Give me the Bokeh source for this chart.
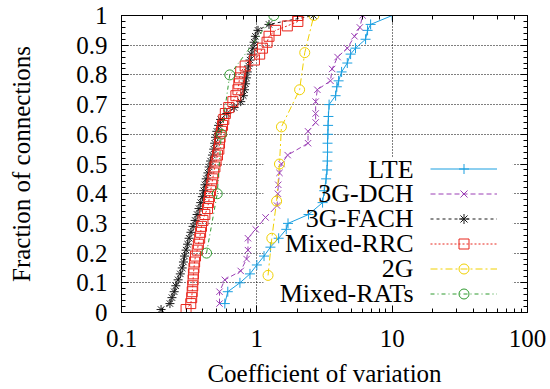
from bokeh.plotting import figure
from bokeh.models import (LogAxis, LinearAxis, SingleIntervalTicker, LogTicker,
                          CustomJSTickFormatter, Legend, LegendItem, Label, Range1d)
from bokeh.core.properties import value
from bokeh.embed import file_html
from bokeh.resources import INLINE

# ---------------- data ----------------
lte_cv = [0.58, 0.61, 0.75, 0.89, 1.0, 1.13, 1.26, 1.45, 1.65, 1.70, 2.41, 3.06, 3.15, 3.25, 3.3,
          3.32, 3.33, 3.33, 3.35, 3.36, 3.38, 3.42, 3.82, 3.9, 4.02, 4.23, 4.66, 4.93, 5.36, 6.36,
          6.58, 6.93, 10.0]
lte_frac = [0.03, 0.07, 0.10, 0.13, 0.16, 0.19, 0.22, 0.25, 0.28, 0.30, 0.33, 0.37, 0.41, 0.45, 0.48,
            0.51, 0.54, 0.57, 0.60, 0.63, 0.66, 0.70, 0.73, 0.76, 0.78, 0.81, 0.84, 0.87, 0.89, 0.92,
            0.95, 0.97, 1.0]

dch_cv = [0.53, 0.53, 0.58, 0.76, 0.84, 0.86, 0.86, 0.98, 1.16, 1.41, 1.43, 1.44, 1.47, 1.52, 1.69,
          2.39, 2.39, 2.72, 2.72, 2.72, 2.8, 3.5, 3.6, 3.95, 4.66, 5.27, 5.77, 6.05]
dch_frac = [0.03, 0.07, 0.11, 0.14, 0.18, 0.21, 0.25, 0.28, 0.32, 0.36, 0.40, 0.43, 0.47, 0.50, 0.53,
            0.57, 0.61, 0.64, 0.67, 0.71, 0.75, 0.78, 0.82, 0.86, 0.89, 0.93, 0.96, 1.0]

fach_cv = [0.196, 0.228, 0.236, 0.245, 0.252, 0.262, 0.272, 0.281, 0.287, 0.292,
           0.300, 0.308, 0.316, 0.326, 0.338, 0.350, 0.362, 0.374, 0.385, 0.396,
           0.405, 0.414, 0.423, 0.435, 0.445, 0.455, 0.470, 0.480, 0.488, 0.495,
           0.506, 0.522, 0.540, 0.600, 0.680, 0.760, 0.795, 0.812, 0.826, 0.838,
           0.850, 0.870, 0.890, 0.910, 0.935, 0.955, 0.975, 1.02, 1.23, 2.62]
fach_frac = [0.01, 0.03, 0.05, 0.07, 0.09, 0.11, 0.13, 0.15, 0.17, 0.19,
             0.21, 0.23, 0.25, 0.27, 0.29, 0.31, 0.33, 0.35, 0.37, 0.39,
             0.41, 0.43, 0.45, 0.47, 0.49, 0.51, 0.53, 0.55, 0.57, 0.59,
             0.61, 0.63, 0.65, 0.67, 0.69, 0.71, 0.73, 0.75, 0.77, 0.79,
             0.81, 0.83, 0.85, 0.87, 0.89, 0.91, 0.93, 0.95, 0.97, 1.0]

rrc_cv = [0.30, 0.325, 0.33, 0.333, 0.336, 0.338, 0.34, 0.343, 0.347, 0.352,
          0.363, 0.37, 0.378, 0.384, 0.39, 0.40, 0.413, 0.432, 0.44, 0.447,
          0.455, 0.464, 0.472, 0.48, 0.49, 0.50, 0.512, 0.524, 0.53, 0.535,
          0.548, 0.558, 0.57, 0.585, 0.62, 0.665, 0.70, 0.725, 0.736, 0.745,
          0.76, 0.82, 0.96, 1.05, 1.10, 1.19, 1.23, 1.375, 1.68, 2.01, 2.01]
rrc_frac = [0.01, 0.03, 0.05, 0.07, 0.09, 0.11, 0.13, 0.15, 0.17, 0.19,
            0.21, 0.23, 0.25, 0.27, 0.29, 0.31, 0.33, 0.35, 0.37, 0.39,
            0.41, 0.43, 0.45, 0.47, 0.49, 0.51, 0.53, 0.55, 0.57, 0.59,
            0.61, 0.63, 0.65, 0.67, 0.69, 0.71, 0.73, 0.75, 0.77, 0.79,
            0.81, 0.83, 0.85, 0.87, 0.89, 0.91, 0.93, 0.95, 0.965, 0.98, 1.0]

g2_cv = [1.21, 1.29, 1.40, 1.47, 1.52, 2.07, 2.26, 2.64]
g2_frac = [0.125, 0.25, 0.375, 0.5, 0.625, 0.75, 0.875, 1.0]

rats_cv = [0.425, 0.51, 0.546, 0.631, 1.335]
rats_frac = [0.2, 0.4, 0.6, 0.8, 1.0]

series_names = ["LTE", "3G-DCH", "3G-FACH", "Mixed-RRC", "2G", "Mixed-RATs"]

# ---------------- styling ----------------
FONT = "Liberation Serif"
FS = "25px"
FS_KEY = "26px"

p = figure(width=550, height=389, x_axis_type="log",
           x_range=Range1d(0.1, 100), y_range=Range1d(0, 1),
           output_backend="svg", toolbar_location=None,
           min_border_left=121, min_border_right=23,
           min_border_top=15, min_border_bottom=76)
p.background_fill_color = "white"
p.border_fill_color = "white"
p.outline_line_color = "black"
p.outline_line_width = 1

p.yaxis.ticker = SingleIntervalTicker(interval=0.1, num_minor_ticks=5)
p.yaxis.formatter = CustomJSTickFormatter(code="return String(Math.round(tick*10)/10);")
p.xaxis.formatter = CustomJSTickFormatter(code="return String(Number(tick.toPrecision(3)));")

for ax in (p.xaxis[0], p.yaxis[0]):
    ax.major_tick_in = 7
    ax.major_tick_out = 0
    ax.minor_tick_in = 4
    ax.minor_tick_out = 0
    ax.axis_line_color = "black"
    ax.major_tick_line_color = "black"
    ax.minor_tick_line_color = "black"
    ax.major_label_text_font = FONT
    ax.major_label_text_font_size = FS
    ax.major_label_text_color = "black"
    ax.axis_label_text_font = FONT
    ax.axis_label_text_font_size = FS
    ax.axis_label_text_font_style = "normal"
    ax.axis_label_text_color = "black"

p.xaxis.axis_label = "Coefficient of variation"
p.yaxis.axis_label = "Fraction of connections"
p.xaxis.major_label_standoff = 17
p.xaxis.axis_label_standoff = 10
p.yaxis.major_label_standoff = 14
p.yaxis.axis_label_standoff = 38

# mirrored tick marks on the right and top
empty = CustomJSTickFormatter(code="return '';")
rax = LinearAxis(ticker=SingleIntervalTicker(interval=0.1, num_minor_ticks=5), formatter=empty,
                 major_tick_in=7, major_tick_out=0, minor_tick_in=4, minor_tick_out=0,
                 major_label_standoff=0, major_label_text_font_size="1px")
tax = LogAxis(ticker=LogTicker(), formatter=empty,
              major_tick_in=7, major_tick_out=0, minor_tick_in=4, minor_tick_out=0,
              major_label_standoff=0, major_label_text_font_size="1px")
p.add_layout(rax, "right")
p.add_layout(tax, "above")

for g in (p.xgrid[0], p.ygrid[0]):
    g.grid_line_color = "black"
    g.grid_line_dash = "1 2"
    g.grid_line_width = 1

# key area: grid is not drawn behind the key (gnuplot style)
p.quad(left=[1.12], right=[78], bottom=[0], top=[0.523], fill_color="white", line_color=None)

styles = [
    (lte_cv, lte_frac, "#1a9fe0", "solid", "cross", 10),
    (dch_cv, dch_frac, "#9b3fb5", "5 3", "x", 9),
    (fach_cv, fach_frac, "#1a1a1a", "3 3", "asterisk", 9),
    (rrc_cv, rrc_frac, "#e8261d", "2 2", "square", 10),
    (g2_cv, g2_frac, "#f0d000", "7 3 2 3", "circle", 10),
    (rats_cv, rats_frac, "#2f9a2f", "4 3 1 3", "circle", 10),
]

items = []
for (xs, ys, col, dash, mk, sz), name in zip(styles, series_names):
    lr = p.line(xs, ys, line_color=col, line_width=1, line_dash=dash)
    sr = p.scatter(xs, ys, marker=mk, size=sz, line_color=col, fill_color=None, line_width=1)
    items.append(LegendItem(label=value(" "), renderers=[lr, sr]))

legend = Legend(items=items, location=(309, 6), orientation="vertical",
                glyph_width=67, glyph_height=25, spacing=0, padding=0, margin=0,
                label_standoff=0, label_width=0, label_height=0,
                label_text_font_size="10px",
                background_fill_alpha=0, border_line_alpha=0)
p.add_layout(legend, "center")

# key texts (right-aligned, left of the samples)
key_x = 14.4
key_y = [0.483, 0.399, 0.315, 0.231, 0.148, 0.063]
for name, ky in zip(series_names, key_y):
    p.add_layout(Label(x=key_x, y=ky, text=name, text_align="right", text_baseline="middle",
                       text_font=FONT, text_font_size=FS_KEY, text_color="black"))

open("out.html", "w").write(file_html(p, INLINE))
